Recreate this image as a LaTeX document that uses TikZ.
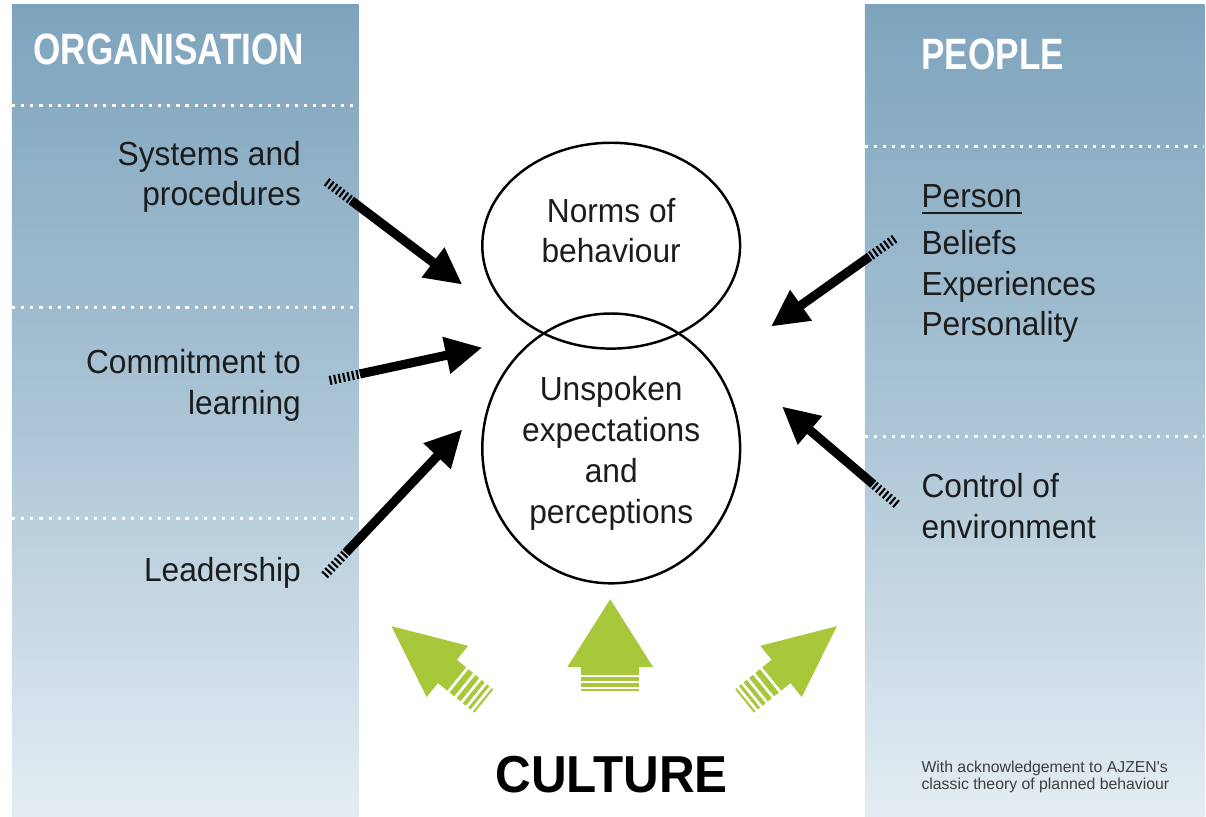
\documentclass[tikz,border=0pt]{standalone}
\usepackage{fontspec}
\setmainfont{Liberation Sans}[FakeStretch=0.95]
\newfontfamily\headfont{Liberation Sans}[FakeStretch=0.8]
\newfontfamily\culturefont{Liberation Sans}[FakeStretch=0.95]
\newfontfamily\notefont{Liberation Sans}
\usetikzlibrary{arrows.meta,calc,shapes.geometric}

\definecolor{paneltop}{RGB}{126,164,189}
\definecolor{panelmid}{RGB}{170,196,213}
\definecolor{panelbot}{RGB}{228,237,243}
\definecolor{lime}{RGB}{168,199,58}
\definecolor{ink}{RGB}{28,28,28}

\begin{document}
\begin{tikzpicture}[x=0.01cm, y=-0.01cm,
  body/.style={font=\fontsize{9.5}{11.6}\selectfont, text=ink, inner sep=0pt},
  head/.style={font=\headfont\bfseries\fontsize{12.5}{14}\selectfont, text=white, inner sep=0pt},
  divider/.style={white, line width=0.9pt, dash pattern=on 0.9pt off 1.7pt},
  bubble/.style={draw, ellipse, line width=0.7pt, inner sep=0pt},
  shaft/.style={line width=2.6pt, -{Triangle[length=10.5pt, width=10pt]}},
  tail/.style={line width=2.6pt, dash pattern=on 0.6pt off 0.7pt}]

% page
\fill[white] (0,0) rectangle (1206,818);

% side panels
\shade[top color=paneltop, bottom color=panelbot, middle color=panelmid] (12,5) rectangle (359,818);
\shade[top color=paneltop, bottom color=panelbot, middle color=panelmid] (866,5) rectangle (1206,818);

% dotted dividers
\foreach \y in {106,308,519} \draw[divider] (12,\y) -- (359,\y);
\foreach \y in {147,437} \draw[divider] (866,\y) -- (1206,\y);

% headings
\node[head, anchor=base west] (orghead) at (33,65) {ORGANISATION};
\node[head, anchor=base west] (peoplehead) at (922,70) {PEOPLE};

% organisation side
\node[body, align=right, anchor=east] (sys) at (302,177) {Systems and\\procedures};
\node[body, align=right, anchor=east] (learn) at (302,386) {Commitment to\\learning};
\node[body, anchor=base east] (lead) at (302,582) {Leadership};

% people side
\node[body, anchor=base west] (person) at (922,208) {\underline{Person}};
\node[body, align=left, anchor=west] (traits) at (922,287) {Beliefs\\Experiences\\Personality};
\node[body, align=left, anchor=west] (control) at (922,507) {Control of\\environment};

% the two bubbles
\node[bubble, minimum width=2.58cm, minimum height=2.06cm] (normsring) at (612,246) {};
\node[bubble, minimum width=2.58cm, minimum height=2.70cm] (unspokenring) at (612,449) {};
\node[body, align=center] (norms) at (612,231) {Norms of\\behaviour};
\node[body, align=center] (unspoken) at (612,454) {Unspoken\\expectations\\and\\perceptions};

% black arrows, striped at the tail
\coordinate (sys-end) at (327,182);     \coordinate (sys-tip) at (463,285);
\coordinate (learn-end) at (330,381);   \coordinate (learn-tip) at (483,348);
\coordinate (lead-end) at (325,576);    \coordinate (lead-tip) at (463,430);
\coordinate (person-end) at (896,239);  \coordinate (person-tip) at (772,327);
\coordinate (control-end) at (898,505); \coordinate (control-tip) at (783,407);
\foreach \n in {sys,learn,lead,person,control} {
  \draw[tail] (\n-end) -- ($(\n-end)!0.32cm!(\n-tip)$);
  \draw[shaft] ($(\n-end)!0.31cm!(\n-tip)$) -- (\n-tip);
}

% green culture arrows
\begin{scope}[shift={(611,600)}]
  \fill[lime] (0,0) -- (43,68) -- (29,68) -- (29,76) -- (-29,76) -- (-29,68) -- (-43,68) -- cycle;
  \foreach \a/\b in {78/82,84/87.5,89.5/92} \fill[lime] (-29,\a) rectangle (29,\b);
\end{scope}
\foreach \x/\r in {392/51,838/-51} {
  \begin{scope}[shift={(\x,627)}, rotate=\r]
    \fill[lime] (0,0) -- (33,72) -- (15,72) -- (15,84) -- (-15,84) -- (-15,72) -- (-33,72) -- cycle;
    \foreach \a/\b in {87/93,96/101,104/108,111/114,117/119} \fill[lime] (-15,\a) rectangle (15,\b);
  \end{scope}
}

\node[font=\culturefont\bfseries\fontsize{14.8}{16}\selectfont, anchor=base, inner sep=0pt] (culture) at (612.5,794) {CULTURE};

\node[font=\notefont\fontsize{4.5}{4.8}\selectfont, text=ink!85, align=left, anchor=north west, inner sep=0pt] (note) at (922,761)
  {With acknowledgement to AJZEN's\\classic theory of planned behaviour};
\end{tikzpicture}
\end{document}
